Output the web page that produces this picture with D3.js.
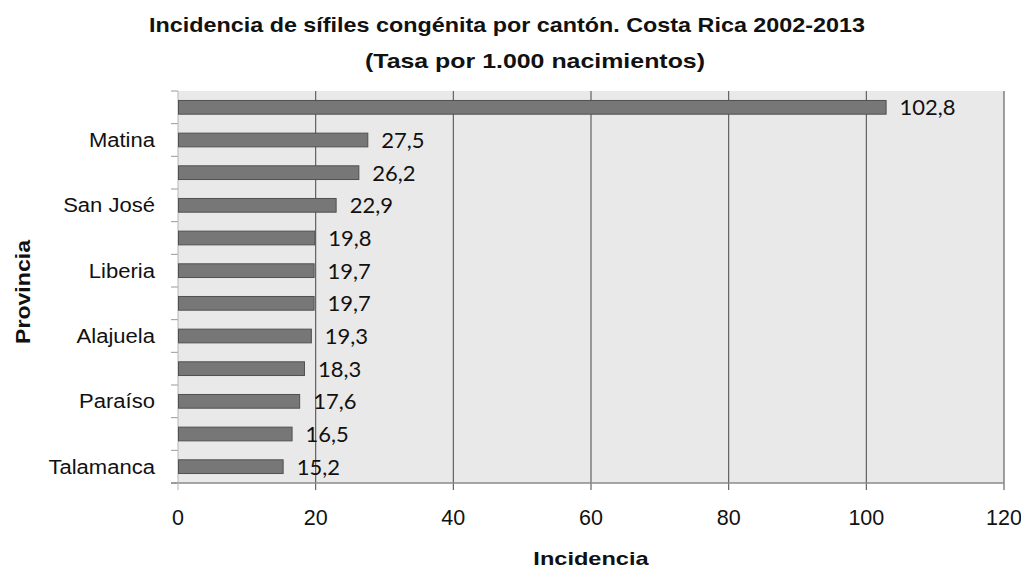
<!DOCTYPE html>
<html>
<head>
<meta charset="utf-8">
<script src="https://cdn.jsdelivr.net/npm/d3@7"></script>
<style>
  html, body { margin: 0; padding: 0; background: #ffffff; }
  svg { display: block; }
</style>
</head>
<body>
<svg id="chart" width="1021" height="569"></svg>
<script>
// Cantones (only every other one carries a label on the axis)
const cantones = ["", "Matina", "", "San José", "", "Liberia", "", "Alajuela", "", "Paraíso", "", "Talamanca"];
// Incidence per 1,000 births, top to bottom
const incidencia = [102.8, 27.5, 26.2, 22.9, 19.8, 19.7, 19.7, 19.3, 18.3, 17.6, 16.5, 15.2];
const xTicks = [0, 20, 40, 60, 80, 100, 120];

const titulo1 = "Incidencia de sífiles congénita por cantón. Costa Rica 2002-2013";
const titulo2 = "(Tasa por 1.000 nacimientos)";

const svg = d3.select("#chart");
const margin = { top: 91, right: 17, bottom: 86, left: 178 };
const W = 1021, H = 569;
const iw = W - margin.left - margin.right;
const ih = H - margin.top - margin.bottom;
const sans = "'Liberation Sans', Arial, sans-serif";

const x = d3.scaleLinear().domain([0, 120]).range([0, iw]);
const y = d3.scaleBand().domain(d3.range(incidencia.length)).range([0, ih]).paddingInner(0.58).paddingOuter(0.29);
const yb = d3.scaleBand().domain(d3.range(incidencia.length)).range([0, ih]);

// widen text horizontally by a factor, keeping its anchor
function widen(sel, f) {
  sel.each(function () {
    const w = this.getComputedTextLength();
    if (w > 0) {
      d3.select(this).attr("textLength", w * f).attr("lengthAdjust", "spacingAndGlyphs");
    }
  });
}

const g = svg.append("g").attr("transform", `translate(${margin.left},${margin.top})`);

// plot background
g.append("rect").attr("x", 0).attr("y", 0).attr("width", iw).attr("height", ih).attr("fill", "#e9e9e9");

// vertical gridlines
g.append("g").selectAll("line").data(xTicks.slice(1)).join("line")
  .attr("x1", d => x(d)).attr("x2", d => x(d))
  .attr("y1", 0).attr("y2", ih + 7)
  .attr("stroke", "#555555").attr("stroke-width", 1.1);

// category ticks on the left edge
g.append("g").selectAll("line").data(d3.range(incidencia.length + 1)).join("line")
  .attr("x1", -7).attr("x2", 0)
  .attr("y1", i => i * yb.step()).attr("y2", i => i * yb.step())
  .attr("stroke", "#9a9a9a").attr("stroke-width", 1);

// bottom axis line
g.append("line").attr("x1", -7).attr("x2", iw).attr("y1", ih).attr("y2", ih)
  .attr("stroke", "#8a8a8a").attr("stroke-width", 1.5);
g.append("line").attr("x1", 0).attr("x2", 0).attr("y1", 0).attr("y2", ih + 7)
  .attr("stroke", "#b5b5b5").attr("stroke-width", 1);

// bars
g.append("g").selectAll("rect").data(incidencia).join("rect")
  .attr("x", 0.5)
  .attr("y", (d, i) => y(i))
  .attr("width", d => x(d))
  .attr("height", y.bandwidth())
  .attr("fill", "#777777")
  .attr("stroke", "#505050").attr("stroke-width", 1);

// value labels
const fmt = v => d3.format(".1f")(v).replace(".", ",");
g.append("g").selectAll("text").data(incidencia).join("text")
  .attr("x", d => x(d) + 14)
  .attr("y", (d, i) => y(i) + y.bandwidth() / 2)
  .attr("dy", "0.36em")
  .attr("font-family", "Lato, 'Open Sans', sans-serif")
  .attr("font-size", 22)
  .attr("fill", "#111")
  .text(d => fmt(d));

// category labels
g.append("g").selectAll("text").data(cantones).join("text")
  .attr("x", -23)
  .attr("y", (d, i) => yb(i) + yb.bandwidth() / 2)
  .attr("dy", "0.36em")
  .attr("text-anchor", "end")
  .attr("font-family", sans)
  .attr("font-size", 19.5)
  .attr("fill", "#111")
  .text(d => d)
  .call(widen, 1.13);

// x tick labels
g.append("g").selectAll("text").data(xTicks).join("text")
  .attr("x", d => x(d))
  .attr("y", 525 - margin.top)
  .attr("text-anchor", "middle")
  .attr("font-family", sans)
  .attr("font-size", 21.5)
  .attr("fill", "#111")
  .text(d => d);

// axis titles
svg.append("text")
  .attr("x", margin.left + iw / 2).attr("y", 565)
  .attr("text-anchor", "middle")
  .attr("font-family", sans)
  .attr("font-size", 19).attr("font-weight", "bold").attr("fill", "#111")
  .text("Incidencia")
  .call(widen, 1.24);

svg.append("text")
  .attr("transform", `translate(22,${margin.top + ih / 2 + 5}) rotate(-90)`)
  .attr("dy", "0.36em")
  .attr("text-anchor", "middle")
  .attr("font-family", sans)
  .attr("font-size", 21).attr("font-weight", "bold").attr("fill", "#111")
  .text("Provincia")
  .call(widen, 1.1);

// title
svg.append("text")
  .attr("x", 507).attr("y", 32)
  .attr("text-anchor", "middle")
  .attr("font-family", sans)
  .attr("font-size", 21).attr("font-weight", "bold").attr("fill", "#111")
  .text(titulo1)
  .attr("textLength", 716).attr("lengthAdjust", "spacingAndGlyphs");
svg.append("text")
  .attr("x", 535).attr("y", 68)
  .attr("text-anchor", "middle")
  .attr("font-family", sans)
  .attr("font-size", 21).attr("font-weight", "bold").attr("fill", "#111")
  .text(titulo2)
  .attr("textLength", 340).attr("lengthAdjust", "spacingAndGlyphs");
</script>
</body>
</html>
